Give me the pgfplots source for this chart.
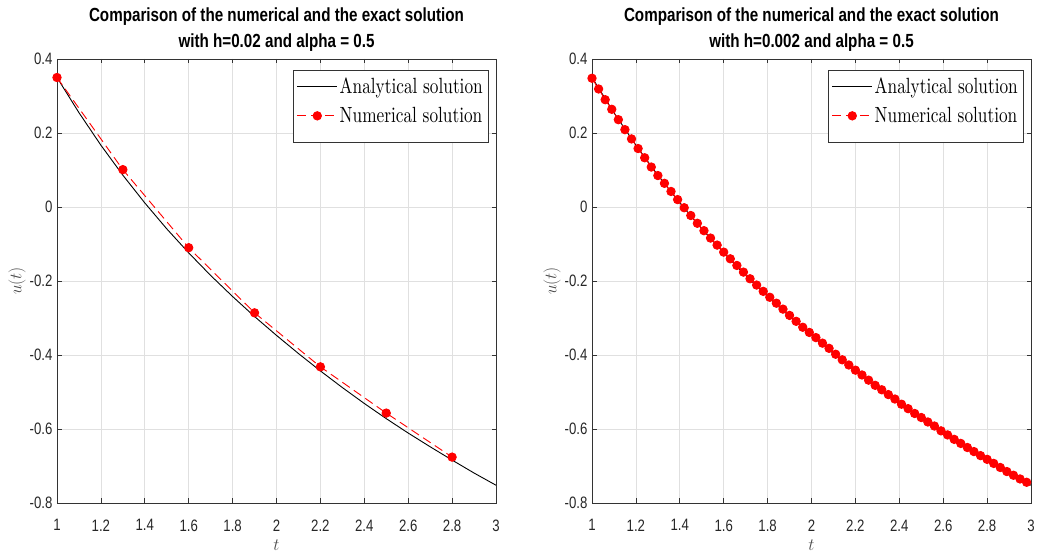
\documentclass[border=0pt]{standalone}
\usepackage{fontspec}
\usepackage{pgfplots}
\pgfplotsset{compat=1.18}
\setmainfont{Liberation Sans}
\newfontfamily\tickfont{Liberation Sans}[FakeStretch=0.8]
\newfontfamily\titlefont{Liberation Sans Bold}[FakeStretch=0.8]
\newfontfamily\legfont{lmroman10-regular.otf}[FakeStretch=0.785]

% analytical solution
\pgfplotstableread{
t u
1.0  0.350
1.1  0.255
1.2  0.167
1.3  0.086
1.4  0.011
1.5 -0.059
1.6 -0.124
1.7 -0.185
1.8 -0.242
1.9 -0.296
2.0 -0.347
2.1 -0.396
2.2 -0.443
2.3 -0.488
2.4 -0.531
2.5 -0.572
2.6 -0.611
2.7 -0.648
2.8 -0.684
2.9 -0.719
3.0 -0.752
}\exact

% numerical, h = 0.02
\pgfplotstableread{
t u
1.0  0.350
1.3  0.101
1.6 -0.110
1.9 -0.286
2.2 -0.432
2.5 -0.557
2.8 -0.676
}\numA

% numerical, h = 0.002
\pgfplotstableread{
t u
1.00  0.348
1.03  0.319
1.06  0.290
1.09  0.264
1.12  0.236
1.15  0.209
1.18  0.184
1.21  0.158
1.24  0.133
1.27  0.108
1.30  0.085
1.33  0.064
1.36  0.042
1.39  0.020
1.42 -0.002
1.45 -0.023
1.48 -0.044
1.51 -0.064
1.54 -0.084
1.57 -0.103
1.60 -0.122
1.63 -0.140
1.66 -0.158
1.69 -0.176
1.72 -0.194
1.75 -0.211
1.78 -0.228
1.81 -0.244
1.84 -0.260
1.87 -0.276
1.90 -0.293
1.93 -0.309
1.96 -0.325
1.99 -0.339
2.02 -0.353
2.05 -0.368
2.08 -0.382
2.11 -0.398
2.14 -0.413
2.17 -0.427
2.20 -0.441
2.23 -0.454
2.26 -0.468
2.29 -0.482
2.32 -0.494
2.35 -0.507
2.38 -0.519
2.41 -0.533
2.44 -0.545
2.47 -0.558
2.50 -0.569
2.53 -0.581
2.56 -0.592
2.59 -0.605
2.62 -0.616
2.65 -0.628
2.68 -0.639
2.71 -0.650
2.74 -0.661
2.77 -0.672
2.80 -0.682
2.83 -0.693
2.86 -0.704
2.89 -0.715
2.92 -0.725
2.95 -0.735
2.98 -0.744
}\numB

\pgfplotsset{
  solplot/.style={
    scale only axis, width=439pt, height=444pt,
    xmin=1, xmax=3, ymin=-0.8, ymax=0.4,
    xtick={1,1.2,1.4,1.6,1.8,2,2.2,2.4,2.6,2.8,3},
    ytick={-0.8,-0.6,-0.4,-0.2,0,0.2,0.4},
    /pgf/number format/assume math mode=true,
    tick label style={font=\tickfont\fontsize{16.5}{16.5}\selectfont, text=black!85},
    xticklabel style={yshift=-13pt},
    yticklabel style={xshift=-1pt},
    grid=major,
    major grid style={black!12, line width=0.7pt},
    tick align=inside, major tick length=4.5pt,
    axis line style={black!80, line width=0.8pt},
    every tick/.style={black!80, line width=0.8pt},
    xlabel={$t$}, ylabel={$u(t)$},
    label style={font=\fontsize{18}{18}\selectfont, text=black!70},
    xlabel style={at={(axis description cs:0.5,-0.095)}, anchor=center},
    ylabel style={at={(axis description cs:-0.091,0.5)}, anchor=center},
    title style={font=\titlefont\fontsize{19}{26}\selectfont, align=center,
      at={(0.5,1)}, anchor=south, inner sep=0pt, yshift=1pt},
    legend cell align=left,
    legend style={at={(1,1)}, anchor=north east, xshift=-8pt, yshift=-11pt,
      draw=none, fill=white, inner xsep=3pt, inner ysep=6pt,
      font=\legfont\fontsize{22}{22}\selectfont,
      row sep=8pt, nodes={inner xsep=2pt}},
    legend image code/.code={
      \draw[mark repeat=2, mark phase=2, #1]
        plot coordinates {(0pt,0pt) (20pt,0pt) (40pt,0pt)};},
  },
  exactline/.style={black, line width=0.9pt},
  numline/.style={red, line width=0.9pt, dash pattern=on 9pt off 5pt,
    mark=*, mark size=4.2pt, mark options={solid, fill=red, draw=red}},
}
\tikzset{legbox/.style={draw=black!80, line width=0.8pt}}

\begin{document}
\begin{tikzpicture}
\useasboundingbox (0,0) rectangle (1038pt,553pt);

\begin{axis}[solplot, at={(57pt,50pt)}, anchor=south west,
  legend style={name=legA},
  title={Comparison of the numerical and the exact solution\\with h=0.02 and alpha = 0.5}]
  \addplot[exactline] table[x=t, y=u] {\exact};
  \addlegendentry{Analytical solution}
  \addplot[numline] table[x=t, y=u] {\numA};
  \addlegendentry{Numerical solution}
\end{axis}
% legend frame with the extra bottom margin of the original
\fill[white] (legA.south west) rectangle ([yshift=-10pt]legA.south east);
\draw[legbox] (legA.north west) rectangle ([yshift=-10pt]legA.south east);

\begin{axis}[solplot, at={(592pt,50pt)}, anchor=south west,
  legend style={name=legB},
  title={Comparison of the numerical and the exact solution\\with h=0.002 and alpha = 0.5}]
  \addplot[exactline] table[x=t, y=u] {\exact};
  \addlegendentry{Analytical solution}
  \addplot[numline] table[x=t, y=u] {\numB};
  \addlegendentry{Numerical solution}
\end{axis}
\fill[white] (legB.south west) rectangle ([yshift=-10pt]legB.south east);
\draw[legbox] (legB.north west) rectangle ([yshift=-10pt]legB.south east);
\end{tikzpicture}
\end{document}
